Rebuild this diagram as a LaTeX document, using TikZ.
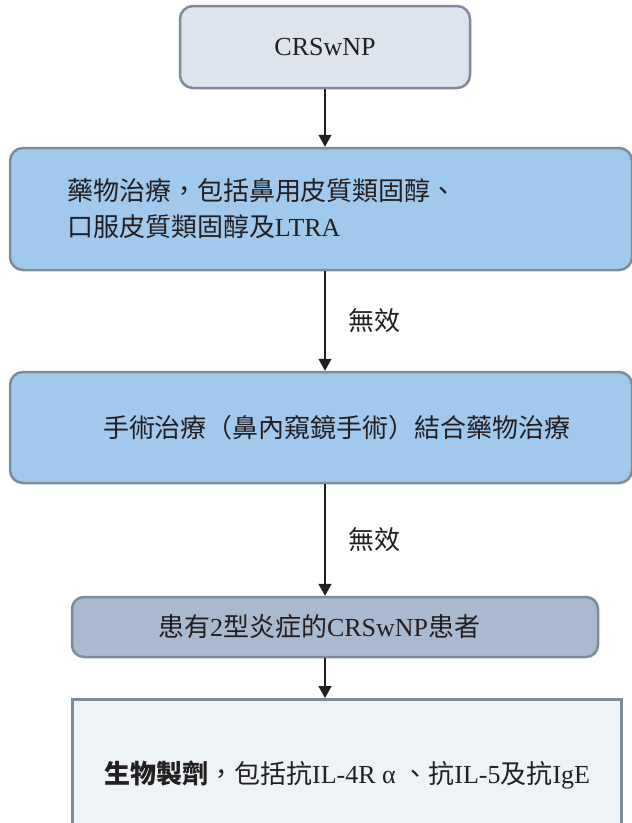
\documentclass[tikz,border=0pt]{standalone}
\usepackage{fontspec}
\setmainfont{Liberation Serif}
\newfontfamily\cjk{Noto Sans CJK TC}
\usetikzlibrary{arrows.meta,calc}
\definecolor{boxline}{HTML}{7E8B99}
\definecolor{topfill}{HTML}{DDE4EE}
\definecolor{medfill}{HTML}{A0C9EC}
\definecolor{patfill}{HTML}{A9B9D0}
\definecolor{biofill}{HTML}{EEF3F8}
\definecolor{txt}{HTML}{231F20}

\begin{document}
\begin{tikzpicture}[x=1pt,y=-1pt,
		box/.style={draw=boxline, line width=2.5pt, rounded corners=13pt, text=txt,
			font=\fontsize{26}{36}\selectfont, inner sep=0pt},
		flow/.style={line width=1.4pt, draw=txt, -{Triangle[width=13pt,length=12pt]}},
		note/.style={text=txt, font=\fontsize{26}{36}\selectfont, inner sep=0pt}]
	\clip (0,0) rectangle (632,823);
	\fill[white] (0,0) rectangle (632,823);
	
	% boxes
	\node[box, fill=topfill, minimum width=290, minimum height=82] (crs) at (325,47) {CRSwNP};
	\node[box, fill=medfill, minimum width=622, minimum height=122, text width=508, align=left] (med) at (321,209)
		{{\cjk 藥物治療，包括鼻用皮質類固醇、}\\{\cjk 口服皮質類固醇及}LTRA};
	\node[box, fill=medfill, minimum width=622, minimum height=111, text width=500, align=right] (surg) at (321,427.5)
		{\cjk 手術治療（鼻內窺鏡手術）結合藥物治療};
	\node[box, fill=patfill, minimum width=526, minimum height=60, rounded corners=12pt, text width=354, align=left] (pat) at (335,627)
		{{\cjk 患有}2{\cjk 型炎症的}CRSwNP{\cjk 患者}};
	\node[box, fill=biofill, sharp corners, minimum width=549, minimum height=160, anchor=north west] (bio) at (71,698) {};
	\node[note, anchor=west] (biotext) at (104,775)
		{{\cjk\bfseries 生物製劑}{\cjk ，包括抗}IL-4R α {\cjk 、抗}IL-5{\cjk 及抗}IgE};
	
	% arrows
	\draw[flow] (crs.south) -- (crs.south |- med.north);
	\draw[flow] (crs.south |- med.south) -- (crs.south |- surg.north)
		node[note, midway, right=23pt] (fail1) {\cjk 無效};
	\draw[flow] (crs.south |- surg.south) -- (crs.south |- pat.north)
		node[note, midway, right=23pt] (fail2) {\cjk 無效};
	\draw[flow] (crs.south |- pat.south) -- (crs.south |- bio.north);
\end{tikzpicture}
\end{document}
